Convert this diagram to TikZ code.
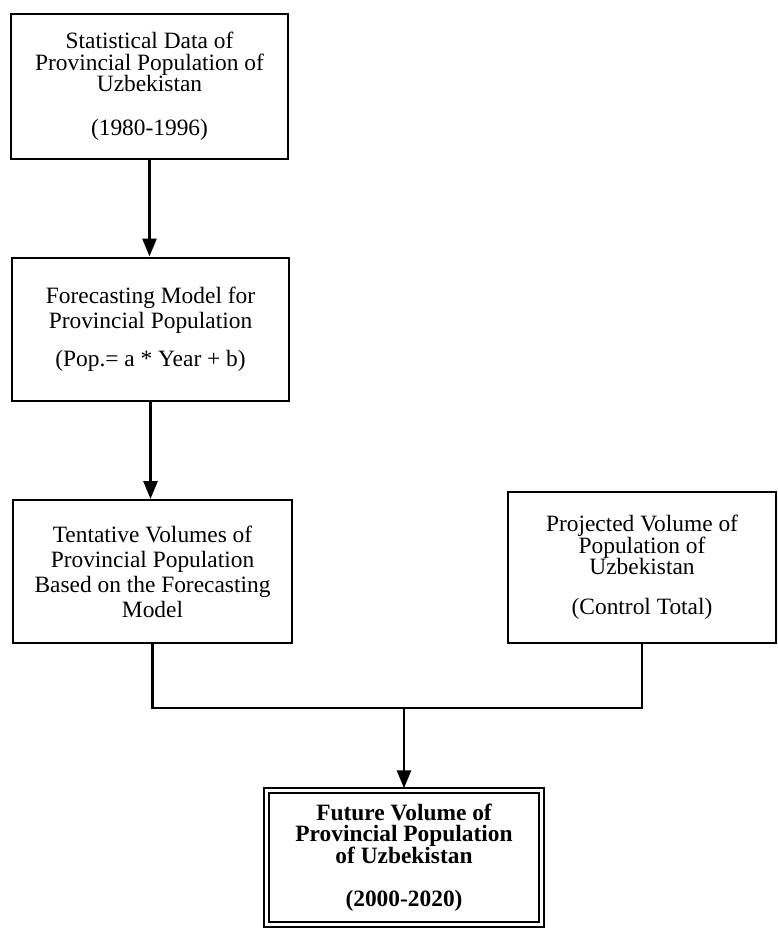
\documentclass[tikz,border=0pt]{standalone}
\usepackage{fontspec}
\setmainfont{Liberation Serif}
\usetikzlibrary{arrows.meta}
\begin{document}
\begin{tikzpicture}[x=1pt,y=-1pt,
  box/.style={draw=black, line width=2pt, align=center, inner sep=0pt,
    font=\fontsize{23.4}{21.5}\selectfont},
  conn/.style={draw=black, line width=2.8pt},
  arr/.style={conn, -{Triangle[length=18pt,width=14pt]}}]
\useasboundingbox (0,0) rectangle (778,928);
\fill[white] (0,0) rectangle (778,928);

\node[box, minimum width=277pt, minimum height=145pt] (b1) at (149.5,86.5)
  {Statistical Data of\\Provincial Population of\\Uzbekistan\\[22pt](1980-1996)};
\node[box, minimum width=277pt, minimum height=143pt,
  font=\fontsize{23.4}{25}\selectfont] (b2) at (150.5,329)
  {Forecasting Model for\\Provincial Population\\[13pt](Pop.= a * Year + b)};
\node[box, minimum width=279pt, minimum height=143pt,
  font=\fontsize{23.4}{25}\selectfont] (b3) at (152.5,571.5)
  {Tentative Volumes of\\Provincial Population\\Based on the Forecasting\\Model};
\node[box, minimum width=268pt, minimum height=151pt] (b4) at (642,567.5)
  {Projected Volume of\\Population of\\Uzbekistan\\[18.5pt](Control Total)};
\node[box, line width=1.5pt, minimum width=270pt, minimum height=129pt,
  font=\fontsize{23.4}{21.5}\selectfont\bfseries] (b5) at (404,857.5)
  {Future Volume of\\Provincial Population\\of Uzbekistan\\[22pt](2000-2020)};
\draw[line width=2pt] ([xshift=-4pt,yshift=4pt]b5.north west) rectangle ([xshift=4pt,yshift=-4pt]b5.south east);

\coordinate (j) at (404,708);
\coordinate (b5top) at ([yshift=4pt]b5.north);

\draw[arr] (b1.south) -- (b1.south |- b2.north);
\draw[arr] (b2.south) -- (b2.south |- b3.north);
\draw[conn] (b3.south) |- (j);
\draw[conn] (b4.south) |- (j);
\draw[arr] (j) -- (b5top);
\end{tikzpicture}
\end{document}
